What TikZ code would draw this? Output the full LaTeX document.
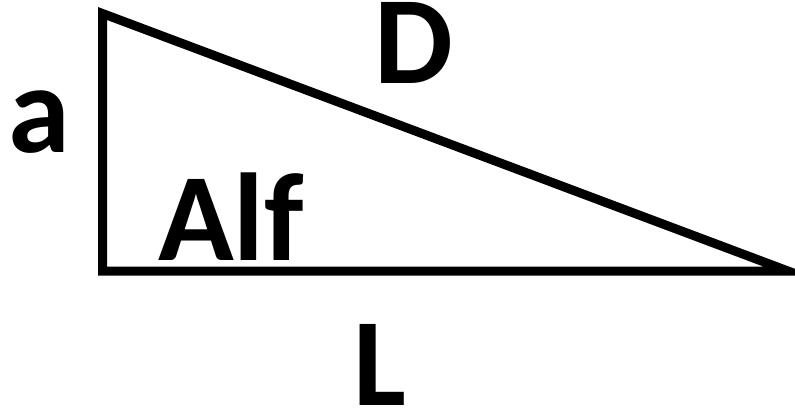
\documentclass[tikz,border=0pt]{standalone}
\usepackage{fontspec}
\setmainfont{Carlito}
\begin{document}
\begin{tikzpicture}[x=1pt,y=-1pt,
  edge/.style={line width=9pt,line join=miter,draw=black},
  lbl/.style={inner sep=0pt,anchor=base,font=\fontsize{125}{130}\selectfont\bfseries}]
\useasboundingbox (0,0) rectangle (795,407);
\coordinate (A) at (102.5,13.5);
\coordinate (B) at (102.5,271);
\coordinate (C) at (788,271);
\draw[edge] (A) -- (B) -- (C) -- cycle;
\node[lbl] (la) at (39,152) {a};
\node[lbl] (lD) at (414,83) {D};
\node[lbl] (lAlf) at (231,260) {Alf};
\node[lbl] (lL) at (380,405) {L};
\end{tikzpicture}
\end{document}
